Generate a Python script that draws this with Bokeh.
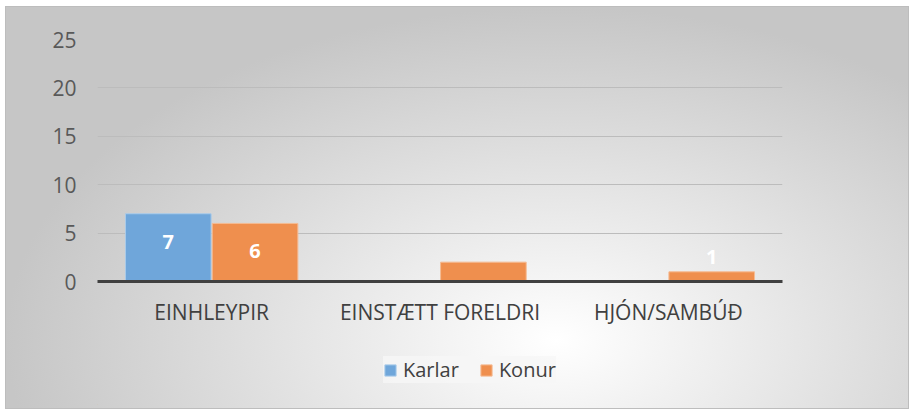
from bokeh.plotting import figure
from bokeh.layouts import column
from bokeh.models import ColumnDataSource, FixedTicker, Legend, LegendItem, Range1d, FactorRange
from bokeh.transform import dodge
from bokeh.core.properties import value
from bokeh.embed import file_html
from bokeh.resources import INLINE

categories = ["EINHLEYPIR", "EINSTÆTT FORELDRI", "HJÓN/SAMBÚÐ"]
series = ["Karlar", "Konur"]
karlar = [7, 0, 0]
konur = [6, 2, 1]
karlar_labels = ["7", "", ""]
konur_labels = ["6", "", "1"]
y_ticks = [0, 5, 10, 15, 20, 25]
colors = ["#6fa6da", "#ef8f4e"]
edge_colors = ["#a9cbea", "#f5bb93"]

FONT = "Open Sans"


def label_y(vals):
    return [v - 2.9 if v >= 3 else v + 1.5 for v in vals]


src = ColumnDataSource(dict(
    cat=categories, karlar=karlar, konur=konur,
    kl=karlar_labels, nl=konur_labels,
    ky=label_y(karlar), ny=label_y(konur),
))

p = figure(x_range=FactorRange(factors=categories, range_padding=0),
           y_range=Range1d(0, 25), width=902, height=330,
           output_backend="svg", toolbar_location=None,
           min_border_left=91, min_border_right=126,
           min_border_top=32, min_border_bottom=56)
p.border_fill_color = None
p.background_fill_color = None
p.outline_line_color = None

p.vbar(x=dodge("cat", -0.19, range=p.x_range), top="karlar", width=0.375,
       source=src, fill_color=colors[0], line_color=edge_colors[0], line_width=1)
p.vbar(x=dodge("cat", 0.19, range=p.x_range), top="konur", width=0.375,
       source=src, fill_color=colors[1], line_color=edge_colors[1], line_width=1)

p.text(x=dodge("cat", -0.19, range=p.x_range), y="ky", text="kl", source=src,
       text_color="white", text_font=value(FONT), text_font_style="bold",
       text_font_size="20px", text_align="center", text_baseline="middle")
p.text(x=dodge("cat", 0.19, range=p.x_range), y="ny", text="nl", source=src,
       text_color="white", text_font=value(FONT), text_font_style="bold",
       text_font_size="20px", text_align="center", text_baseline="middle")

p.yaxis.ticker = FixedTicker(ticks=y_ticks)
p.ygrid.ticker = FixedTicker(ticks=y_ticks)
p.ygrid.grid_line_color = "#bcbcbc"
p.ygrid.grid_line_width = 1
p.xgrid.grid_line_color = None

p.yaxis.axis_line_color = None
p.yaxis.major_tick_line_color = None
p.yaxis.minor_tick_line_color = None
p.yaxis.major_tick_out = 0
p.yaxis.major_label_standoff = 21
p.yaxis.major_label_text_font = FONT
p.yaxis.major_label_text_font_size = "21px"
p.yaxis.major_label_text_color = "#595959"

p.xaxis.axis_line_color = "#404040"
p.xaxis.axis_line_width = 3
p.xaxis.major_tick_line_color = None
p.xaxis.minor_tick_line_color = None
p.xaxis.major_tick_out = 0
p.xaxis.major_label_standoff = 16
p.xaxis.major_label_text_font = FONT
p.xaxis.major_label_text_font_size = "21px"
p.xaxis.major_label_text_color = "#404040"

# legend strip (its own small figure, below the chart)
lf = figure(x_range=Range1d(0, 1), y_range=Range1d(0, 1), width=902, height=71,
            output_backend="svg", toolbar_location=None,
            x_axis_type=None, y_axis_type=None,
            min_border_left=0, min_border_right=0, min_border_top=0, min_border_bottom=4)
lf.border_fill_color = None
lf.background_fill_color = None
lf.outline_line_color = None
items = []
for name, c, ec in zip(series, colors, edge_colors):
    # legend key only: one point placed outside the visible range
    r = lf.vbar(x=[-1], top=[0], width=0.1, fill_color=c, line_color=ec, line_width=1)
    items.append(LegendItem(label=name, renderers=[r]))

legend = Legend(items=items, orientation="horizontal", location=(286, 21),
                background_fill_color="#f6f6f6", background_fill_alpha=0.8,
                border_line_color=None, label_text_font=FONT,
                label_text_font_size="20px", label_text_color="#404040",
                glyph_width=14, glyph_height=14, spacing=20, label_standoff=6,
                padding=12, margin=0)
lf.add_layout(legend)

layout = column(p, lf, spacing=0)
layout.margin = (7, 0, 0, 6)
layout.styles = {
    "background": "radial-gradient(ellipse farthest-side at 61% 83%, #ffffff 0%, #c6c6c6 100%)",
    "box-shadow": "0 0 0 1px #bdbdbd",
}

open("out.html", "w").write(file_html(layout, INLINE))
